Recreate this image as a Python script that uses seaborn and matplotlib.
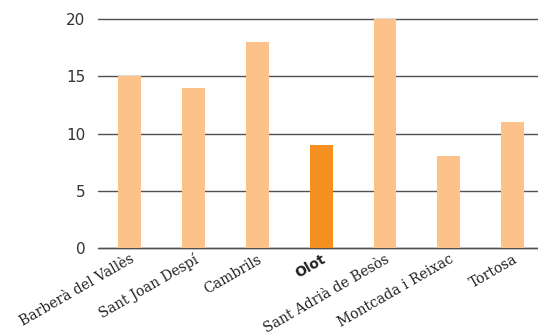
import matplotlib
matplotlib.use("Agg")
import matplotlib.pyplot as plt
import seaborn as sns
import pandas as pd

municipis = ["Barberà del Vallès", "Sant Joan Despí", "Cambrils", "Olot",
             "Sant Adrià de Besòs", "Montcada i Reixac", "Tortosa"]
valors = [15, 14, 18, 9, 20, 8, 11]
destacat = "Olot"
yticks = [0, 5, 10, 15, 20]

color_base = "#FCC289"
color_destacat = "#F58F1F"

sns.set_theme(style="white")
plt.rcParams["font.family"] = ["DejaVu Sans"]

df = pd.DataFrame({"municipi": municipis, "valor": valors})
palette = {m: (color_destacat if m == destacat else color_base) for m in municipis}

fig = plt.figure(figsize=(5.38, 3.36), dpi=100)
ax = fig.add_axes([98 / 538, 88 / 336, 1 - 98 / 538 + 0.012, 229 / 336])

sns.barplot(data=df, x="municipi", y="valor", hue="municipi", palette=palette,
            width=0.36, legend=False, ax=ax, zorder=3, saturation=1,
            linewidth=0, edgecolor="none")

ax.set_ylim(0, 20)
ax.set_xlim(-0.5, 6.5)
ax.set_yticks(yticks)
ax.yaxis.grid(True, color="#505050", linewidth=1.0, zorder=0)
for gl in ax.get_ygridlines():
    gl.set_clip_on(False)
ax.axhline(0, color="#505050", linewidth=1.0, zorder=2, clip_on=False)
ax.xaxis.grid(False)
for s in ax.spines.values():
    s.set_visible(False)
ax.set_xlabel("")
ax.set_ylabel("")
ax.tick_params(axis="y", length=0, pad=9, labelsize=11, labelcolor="#333333")
ax.tick_params(axis="x", length=0, pad=3)

ax.set_xticks(range(len(municipis)))
ax.set_xticklabels(municipis, rotation=30, ha="right", rotation_mode="anchor")
for lbl in ax.get_xticklabels():
    if lbl.get_text() == destacat:
        lbl.set_fontfamily("DejaVu Sans")
        lbl.set_fontweight("bold")
        lbl.set_fontsize(10)
    else:
        lbl.set_fontfamily("DejaVu Serif")
        lbl.set_fontsize(10)
    lbl.set_color("#222222")

fig.savefig("out.png", dpi=100)
